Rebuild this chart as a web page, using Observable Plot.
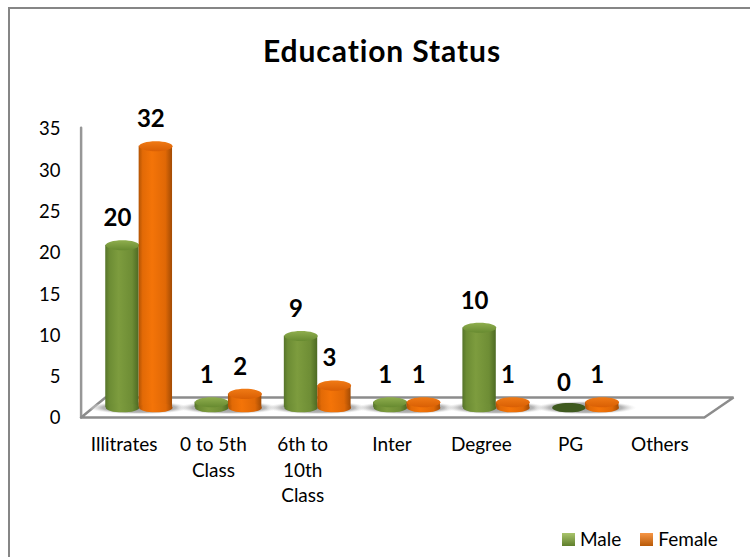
<!DOCTYPE html>
<html><head><meta charset="utf-8">
<script src="https://cdn.jsdelivr.net/npm/d3@7"></script>
<script src="https://cdn.jsdelivr.net/npm/@observablehq/plot@0.6"></script>
<style>
html,body{margin:0;padding:0;background:#fff}
#chart{position:relative;width:750px;height:557px;font-family:Lato,sans-serif;color:#000;overflow:hidden}
#frame{position:absolute;left:8px;top:7px;width:760px;height:570px;border-left:2px solid #868686;border-top:2px solid #868686;pointer-events:none}
#title{position:absolute;left:0;width:764px;top:32px;text-align:center;font-size:30px;font-weight:700;line-height:36px;letter-spacing:0.9px}
#legend{position:absolute;left:562px;top:528px;font-size:19px;line-height:22px;display:flex;align-items:center}
.sw{display:inline-block;width:13px;height:13px;margin-right:5px}
.lab{margin-right:19px}
svg{position:absolute;left:0;top:0;overflow:visible}
</style></head><body>
<div id="chart"><div id="frame"></div><div id="title">Education Status</div>
<div id="legend"><span class="sw" style="background:linear-gradient(180deg,#a9c46c,#5f7f2c)"></span><span class="lab">Male</span><span class="sw" style="background:linear-gradient(180deg,#f79646,#b85a08)"></span><span class="lab">Female</span></div>
</div>
<script>
const categories = ["Illitrates","0 to 5th\nClass","6th to\n10th\nClass","Inter","Degree","PG","Others"];
const male   = [20,1,9,1,10,0,null];
const female = [32,2,3,1,1,1,null];
const yTicks = [0,5,10,15,20,25,30,35];
// floor outline and back wall, in chart units (category index, value)
const floorX = [-0.15,0.123,7.157,6.83,-0.15];
const floorY = [0,2.42,2.42,0,0];
const wallX = [-0.15,-0.15];
const wallY = [0,35.1];
const depth = 0.86, base = 1.19, half = 0.187;

const rows = [];
categories.forEach((c,i)=>{
  if(male[i]!=null) rows.push({c,i,s:"Male",v:male[i],x:i+0.5-half});
  if(female[i]!=null) rows.push({c,i,s:"Female",v:female[i],x:i+0.5+half});
});
const floor = floorX.map((x,k)=>({x,y:floorY[k]}));
const wall = wallX.map((x,k)=>({x,y:wallY[k]}));

function ellipse(k){return {draw(ctx,size){
  const rx=Math.sqrt(size/Math.PI),ry=rx*k,m=0.5523;
  ctx.moveTo(-rx,0);
  ctx.bezierCurveTo(-rx,-ry*m,-rx*m,-ry,0,-ry);
  ctx.bezierCurveTo(rx*m,-ry,rx,-ry*m,rx,0);
  ctx.bezierCurveTo(rx,ry*m,rx*m,ry,0,ry);
  ctx.bezierCurveTo(-rx*m,ry,-rx,ry*m,-rx,0);
  ctx.closePath();
}}}

function defs(){
  const d=d3.create("svg:defs");
  const grad=(id,stops,vertical)=>{
    const g=d.append("linearGradient").attr("id",id).attr("x1",0).attr("y1",0).attr("x2",vertical?0:1).attr("y2",vertical?1:0);
    stops.forEach(([o,c])=>g.append("stop").attr("offset",o).attr("stop-color",c));
  };
  grad("mBody",[[0,"#56742a"],[0.12,"#6c8c34"],[0.4,"#7d9c3e"],[0.8,"#6e8d35"],[1,"#4d6a23"]]);
  grad("fBody",[[0,"#b25304"],[0.12,"#e26a06"],[0.4,"#f47408"],[0.8,"#e06806"],[1,"#a24b04"]]);
  grad("mCap",[[0,"#8fae4e"],[1,"#678a30"]],true);
  grad("fCap",[[0,"#f07a15"],[1,"#d95f04"]],true);
  const r=d.append("radialGradient").attr("id","shade");
  r.append("stop").attr("offset",0).attr("stop-color","#8f8f8f").attr("stop-opacity",0.85);
  r.append("stop").attr("offset",0.7).attr("stop-color","#a5a5a5").attr("stop-opacity",0.6);
  r.append("stop").attr("offset",1).attr("stop-color","#fff").attr("stop-opacity",0);
  return d.node();
}

function seriesMarks(name,body,cap,dark){
  const d=rows.filter(r=>r.s===name);
  return [
    Plot.rect(d.filter(r=>r.v>0),{x1:r=>r.x-half,x2:r=>r.x+half,y1:base,y2:r=>r.v+depth,fill:body}),
    Plot.dot(d,{x:"x",y:base,r:16.7,symbol:ellipse(0.28),fill:r=>r.v>0?body:dark,stroke:"none"}),
    Plot.dot(d.filter(r=>r.v>0),{x:"x",y:r=>r.v+depth,r:16.7,symbol:ellipse(0.3),fill:cap,stroke:"none"})
  ];
}

const plot = Plot.plot({
  width:750,height:557,
  marginLeft:94,marginRight:31,marginTop:128,marginBottom:140,
  style:{background:"transparent",fontFamily:"Lato,sans-serif",color:"#000"},
  x:{type:"linear",domain:[0,7],label:null},
  y:{domain:[0,35],label:null},
  color:{type:"identity"},
  marks:[
    defs,
    Plot.line(wall,{x:"x",y:"y",stroke:"#979797",strokeWidth:2.5}),
    Plot.line(floor,{x:"x",y:"y",stroke:"#8c8c8c",strokeWidth:2.5,fill:"#fff",strokeLinejoin:"miter"}),
    Plot.dot(rows,{x:r=>r.i+0.5,y:base,r:52,symbol:ellipse(0.13),fill:"url(#shade)",stroke:"none"}),
    Plot.axisY({ticks:yTicks,tickSize:0,tickPadding:34,dy:1,fontSize:18.5,label:null}),
    Plot.axisX({ticks:categories.map((c,i)=>i+0.5),tickFormat:v=>categories[Math.floor(v)],tickSize:0,tickPadding:15.5,dx:-15,fontSize:19,lineHeight:1.34,label:null,textAnchor:"middle",lineAnchor:"top"}),
    ...seriesMarks("Male","url(#mBody)","url(#mCap)","#3f5a1f"),
    ...seriesMarks("Female","url(#fBody)","url(#fCap)","#3f5a1f"),
    Plot.text(rows,{x:"x",y:r=>r.v+depth,text:r=>String(r.v),dx:-5,dy:-27,fontSize:24,fontWeight:700,fill:"#000"})
  ]
});
document.getElementById("chart").prepend(plot);
</script>
</body></html>
